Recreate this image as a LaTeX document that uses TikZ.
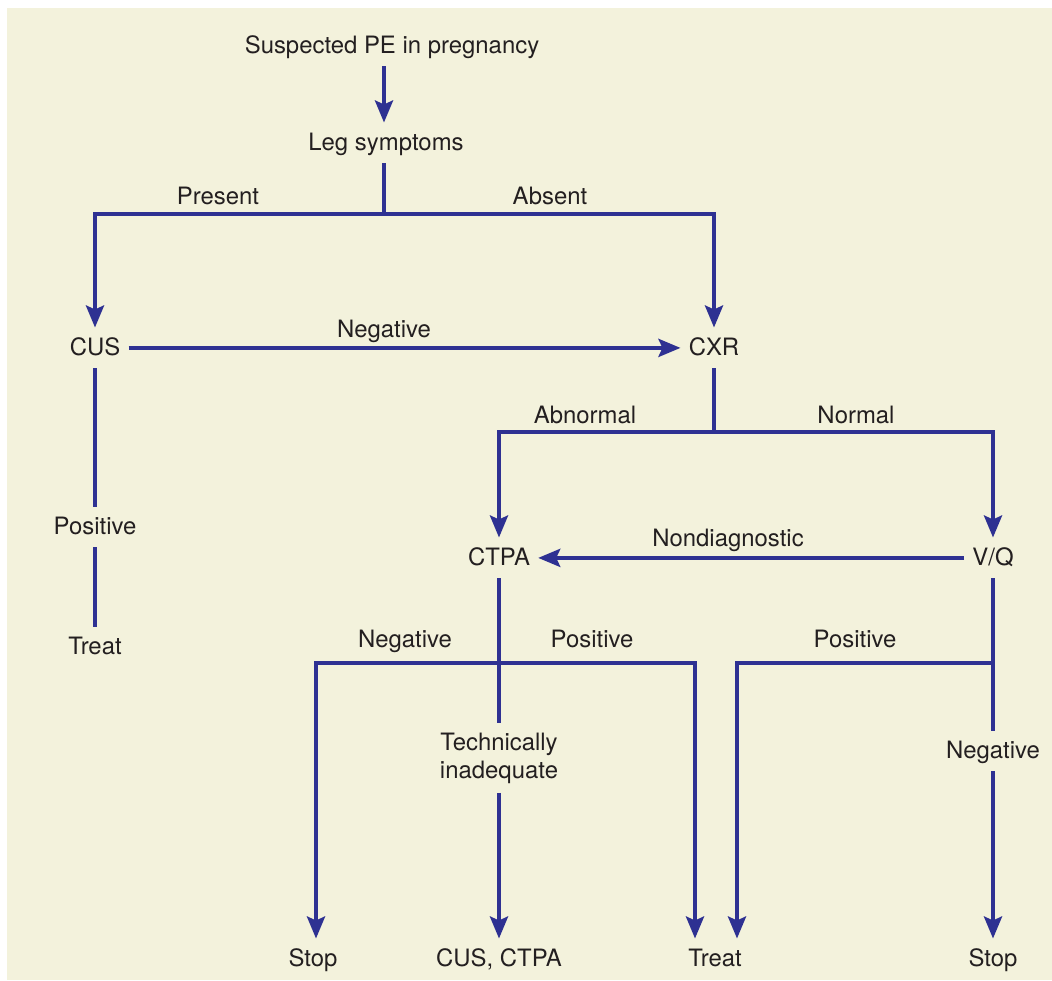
\documentclass[tikz,border=0pt]{standalone}
\usepackage{fontspec}
\setmainfont{TeX Gyre Heros}
\usepackage{xcolor}
\definecolor{flowBg}{HTML}{F3F2DC}
\definecolor{flowLine}{HTML}{2E3192}
\definecolor{flowText}{HTML}{231F20}
\usetikzlibrary{arrows.meta}

\begin{document}
\begin{tikzpicture}[x=0.025cm, y=-0.025cm,
    flowtip/.tip={Stealth[length=0.55cm, width=0.45cm, inset=0.1cm]},
    box/.style={font=\fontsize{17}{20}\selectfont, text=flowText, text height=0.43cm, text depth=0.075cm, inner xsep=0.2cm, inner ysep=0.25cm, anchor=base},
    twoline/.style={font=\fontsize{17}{19.9}\selectfont, text=flowText, align=center, inner xsep=0.2cm, inner ysep=0.23cm},
    lbl/.style={font=\fontsize{17}{20}\selectfont, text=flowText, inner sep=0pt, anchor=base},
    wire/.style={draw=flowLine, line width=0.1cm},
    arr/.style={wire, -flowtip},
    arrs/.style={wire, flowtip-flowtip}]
  \useasboundingbox (0,0) rectangle (1052,980);
  \fill[flowBg] (7,8) rectangle (1052,980);
  \node[box] (sus) at (392,53) {Suspected PE in pregnancy};
  \node[box] (leg) at (386,150) {Leg symptoms};
  \node[box] (cus) at (95,355) {CUS};
  \node[box] (cxr) at (714,355) {CXR};
  \node[box] (pos1) at (95,534) {Positive};
  \node[box] (treatL) at (95,654) {Treat};
  \node[box] (ctpa) at (499,565) {CTPA};
  \node[box] (vq) at (993,565) {V/Q};
  \node[twoline] (tech) at (499,758) {Technically\\inadequate};
  \node[box] (neg2) at (993,758) {Negative};
  \node[box] (stopA) at (313,966) {Stop};
  \node[box] (repeat) at (499,966) {CUS, CTPA};
  \node[box] (treatB) at (715,966) {Treat};
  \node[box] (stopB) at (993,966) {Stop};
  \node[lbl] (present) at (218,204) {Present};
  \node[lbl] (absent) at (550,204) {Absent};
  \node[lbl] (negA) at (384,337) {Negative};
  \node[lbl] (abnormal) at (585,423) {Abnormal};
  \node[lbl] (normal) at (856,423) {Normal};
  \node[lbl] (nondiag) at (728,546) {Nondiagnostic};
  \node[lbl] (negB) at (405,647) {Negative};
  \node[lbl] (posB) at (592,647) {Positive};
  \node[lbl] (posC) at (855,647) {Positive};
  \coordinate (legsplit) at (384,214);
  \coordinate (cxrsplit) at (714,432);
  \coordinate (ctpaL) at (316,663);
  \coordinate (ctpaR) at (695,663);
  \coordinate (vqL) at (737,663);
  \coordinate (vqsplit) at (993,663);
  \draw[arr] (sus.south -| legsplit) -- (leg.north -| legsplit);
  \draw[wire] (leg.south -| legsplit) -- (legsplit);
  \draw[arrs] (cus.north) |- (legsplit) -| (cxr.north);
  \draw[arr] (cus.east) -- (cxr.west);
  \draw[wire] (cus) -- (pos1);
  \draw[wire] (pos1) -- (treatL);
  \draw[wire] (cxr) -- (cxrsplit);
  \draw[arrs] (ctpa.north) |- (cxrsplit) -| (vq.north);
  \draw[arr] (vq.west) -- (ctpa.east);
  \draw[wire] (ctpa) -- (tech);
  \draw[arr] (tech) -- (repeat);
  \draw[arrs] (ctpaL |- stopA.north) -- (ctpaL) -- (ctpaR) -- (ctpaR |- treatB.north);
  \draw[wire] (vq) -- (neg2);
  \draw[arr] (neg2) -- (stopB);
  \draw[arr] (vqsplit) -- (vqL) -- (vqL |- treatB.north);
\end{tikzpicture}
\end{document}
